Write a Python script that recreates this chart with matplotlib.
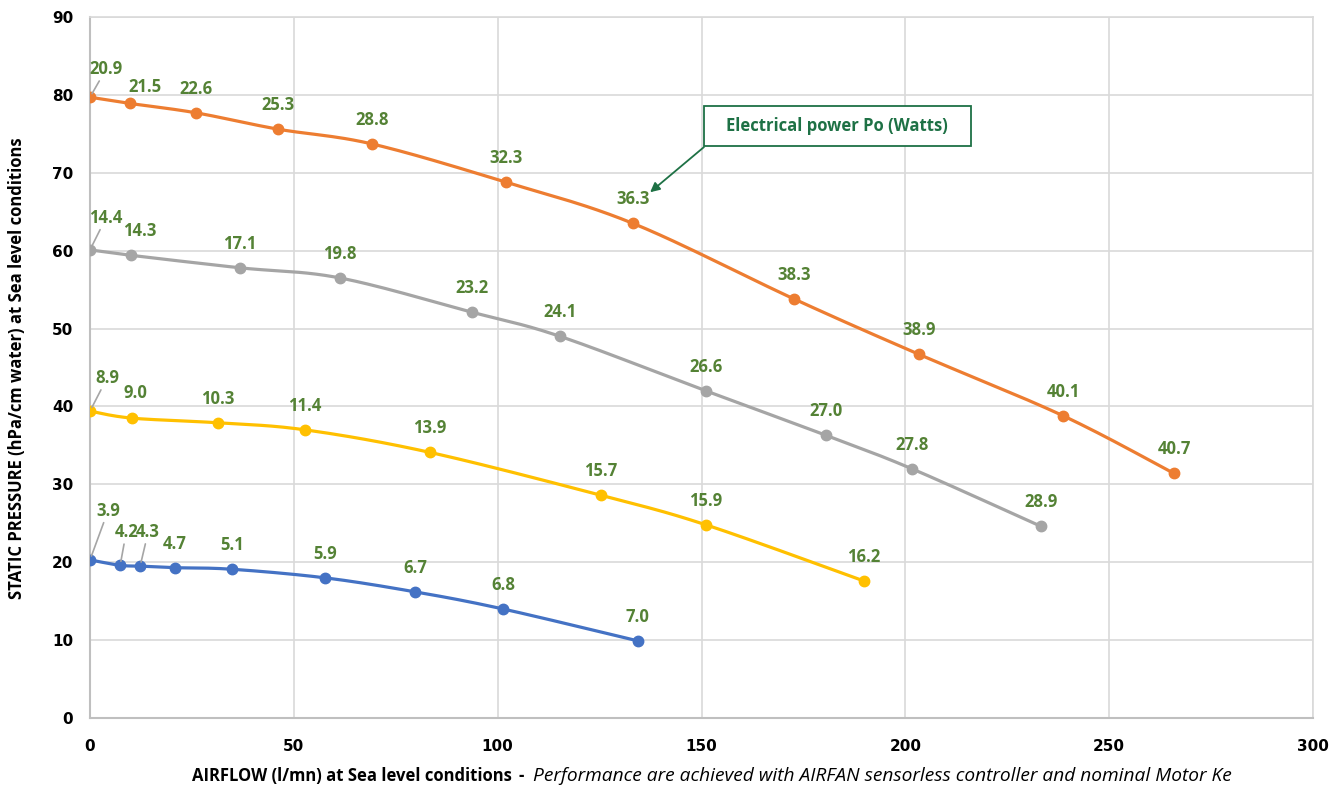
import numpy as np
import matplotlib
matplotlib.use("Agg")
import matplotlib.pyplot as plt
from matplotlib.patches import Rectangle

# data
blue_x = [0, 7.4, 12.3, 20.8, 34.8, 57.6, 79.7, 101.3, 134.4]
blue_y = [20.3, 19.6, 19.5, 19.3, 19.1, 18.0, 16.2, 14.0, 9.9]
blue_pw = [3.9, 4.2, 4.3, 4.7, 5.1, 5.9, 6.7, 6.8, 7.0]

yellow_x = [0, 10.3, 31.4, 52.7, 83.4, 125.3, 151.1, 189.8]
yellow_y = [39.4, 38.5, 37.9, 37.0, 34.1, 28.6, 24.8, 17.6]
yellow_pw = [8.9, 9.0, 10.3, 11.4, 13.9, 15.7, 15.9, 16.2]

grey_x = [0, 10.1, 36.8, 61.3, 93.7, 115.3, 151.1, 180.5, 201.6, 233.3]
grey_y = [60.1, 59.4, 57.8, 56.5, 52.1, 49.0, 42.0, 36.3, 32.0, 24.6]
grey_pw = [14.4, 14.3, 17.1, 19.8, 23.2, 24.1, 26.6, 27.0, 27.8, 28.9]

orange_x = [0, 9.8, 26.0, 46.1, 69.2, 102.0, 133.2, 172.7, 203.3, 238.7, 265.9]
orange_y = [79.7, 78.9, 77.7, 75.6, 73.7, 68.8, 63.5, 53.8, 46.7, 38.8, 31.4]
orange_pw = [20.9, 21.5, 22.6, 25.3, 28.8, 32.3, 36.3, 38.3, 38.9, 40.1, 40.7]

series = [
    (blue_x, blue_y, blue_pw, "#4472C4"),
    (yellow_x, yellow_y, yellow_pw, "#FFC000"),
    (grey_x, grey_y, grey_pw, "#A5A5A5"),
    (orange_x, orange_y, orange_pw, "#ED7D31"),
]

# label offsets in pixels for crowded points: (series index, point index) -> (dx, dy, leader)
special = {
    (0, 0): (18, 49, True),
    (0, 1): (6, 33, True),
    (0, 2): (8, 34, True),
    (1, 0): (17, 33, True),
    (1, 1): (3, 25, False),
    (2, 0): (16, 32, True),
    (2, 1): (9, 24, False),
    (3, 0): (16, 28, True),
    (3, 1): (15, 16, False),
}

LABEL_GREEN = "#548235"
BOX_GREEN = "#1E7145"
FONT = ["Open Sans", "DejaVu Sans"]


def smooth(xs, ys, n=24):
    # bezier smoothing, close to Excel's "smoothed line"
    p = np.column_stack([xs, ys]).astype(float)
    p = np.vstack([p[0], p, p[-1]])
    out = []
    for i in range(1, len(p) - 2):
        p0, p1, p2, p3 = p[i - 1], p[i], p[i + 1], p[i + 2]
        c1 = p1 + (p2 - p0) / 6.0
        c2 = p2 - (p3 - p1) / 6.0
        t = np.linspace(0, 1, n)[:, None]
        seg = ((1 - t) ** 3) * p1 + 3 * ((1 - t) ** 2) * t * c1 + 3 * (1 - t) * t ** 2 * c2 + t ** 3 * p2
        out.append(seg if i == 1 else seg[1:])
    s = np.vstack(out)
    return s[:, 0], s[:, 1]


fig = plt.figure(figsize=(13.41, 7.91), dpi=100)
ax = fig.add_axes([90 / 1341, 1 - 718 / 791, (1313 - 90) / 1341, (718 - 17) / 791])

for si, (xs, ys, pw, col) in enumerate(series):
    sx, sy = smooth(xs, ys)
    ax.plot(sx, sy, color=col, lw=2.3, zorder=3, solid_capstyle="round")
    ax.plot(xs, ys, "o", color=col, ms=7.5, zorder=4)
    for pi, (x, y, v) in enumerate(zip(xs, ys, pw)):
        dx, dy, leader = special.get((si, pi), (0, 24, False))
        kw = {}
        if leader:
            kw["arrowprops"] = dict(arrowstyle="-", color="#A5A5A5", lw=1.2,
                                    shrinkA=0, shrinkB=3)
        ax.annotate(f"{v:.1f}", xy=(x, y), xytext=(dx, dy), textcoords="offset pixels",
                    ha="center", va="center", color=LABEL_GREEN, fontsize=12,
                    fontweight="bold", family=FONT, zorder=5, **kw)

# callout box with arrow
ax.add_patch(Rectangle((150.6, 73.4), 65.5, 5.2, fc="white", ec=BOX_GREEN, lw=1.3, zorder=6))
ax.text(183.3, 76.0, "Electrical power Po (Watts)", ha="center", va="center",
        color=BOX_GREEN, fontsize=12, fontweight="bold", family=FONT, zorder=7)
ax.annotate("", xy=(137.4, 67.5), xytext=(150.6, 73.3),
            arrowprops=dict(arrowstyle="-|>", color=BOX_GREEN, lw=1.3, mutation_scale=14,
                            shrinkA=0, shrinkB=0), zorder=6)

ax.set_xlim(0, 300)
ax.set_ylim(0, 90)
ax.set_xticks(range(0, 301, 50))
ax.set_yticks(range(0, 91, 10))
ax.grid(True, color="#D9D9D9", lw=1.2, zorder=0)
ax.set_axisbelow(True)
for s in ["top", "right"]:
    ax.spines[s].set_color("#D9D9D9")
    ax.spines[s].set_linewidth(1.2)
for s in ["left", "bottom"]:
    ax.spines[s].set_color("#BFBFBF")
    ax.spines[s].set_linewidth(1.5)
ax.tick_params(length=0, pad=12)
ax.tick_params(axis="x", pad=15)
for lab in ax.get_xticklabels() + ax.get_yticklabels():
    lab.set_fontweight("bold")
    lab.set_fontsize(11)
    lab.set_family("DejaVu Sans")

fig.text(17 / 1341, 1 - 368 / 791, "STATIC PRESSURE (hPa/cm water) at Sea level conditions",
         rotation=90, ha="center", va="center", fontsize=12, fontweight="bold", family=FONT)
fig.text(512 / 1341, 1 - 776 / 791, "AIRFLOW (l/mn) at Sea level conditions", ha="right",
         va="center", fontsize=12, fontweight="bold", family=FONT)
fig.text(521 / 1341, 1 - 776 / 791, "-", ha="center", va="center", fontsize=12,
         fontweight="bold", family=FONT)
fig.text(533 / 1341, 1 - 776 / 791,
         "Performance are achieved with AIRFAN sensorless controller and nominal Motor Ke",
         ha="left", va="center", fontsize=13.8, style="italic", family=FONT)

fig.savefig("out.png", dpi=100, facecolor="white")
